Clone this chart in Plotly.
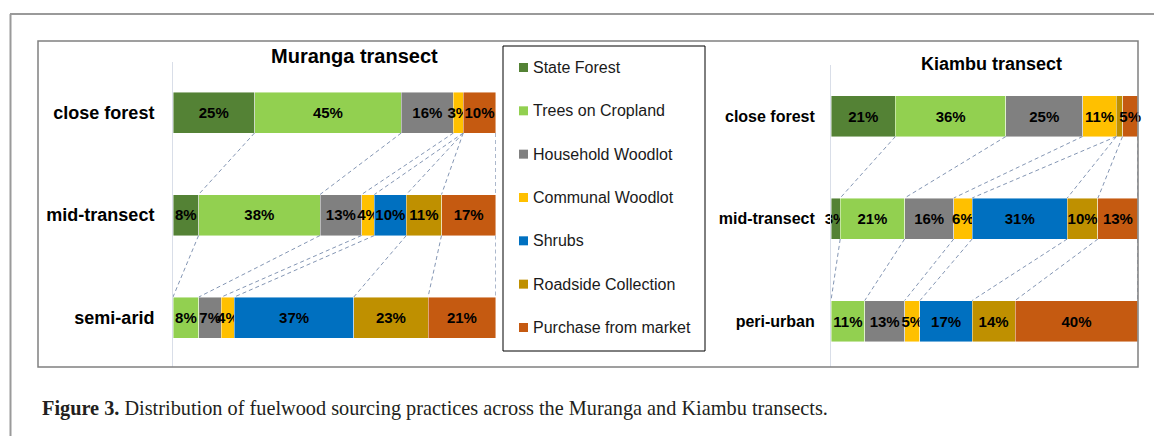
import plotly.graph_objects as go

W, H = 1154, 436

# ---------------- data ----------------
series_names = ["State Forest", "Trees on Cropland", "Household Woodlot",
                "Communal Woodlot", "Shrubs", "Roadside Collection",
                "Purchase from market"]
series_colors = ["#548235", "#92D050", "#808080", "#FFC000",
                 "#0070C0", "#BF9000", "#C55A11"]

muranga_sites = ["close forest", "mid-transect", "semi-arid"]
muranga_state = [25, 8, 0]
muranga_trees = [45, 38, 8]
muranga_household = [16, 13, 7]
muranga_communal = [3, 4, 4]
muranga_shrubs = [0, 10, 37]
muranga_roadside = [0, 11, 23]
muranga_purchase = [10, 17, 21]

kiambu_sites = ["close forest", "mid-transect", "peri-urban"]
kiambu_state = [21, 3, 0]
kiambu_trees = [36, 21, 11]
kiambu_household = [25, 16, 13]
kiambu_communal = [11, 6, 5]
kiambu_shrubs = [0, 31, 17]
kiambu_roadside = [2, 10, 14]
kiambu_purchase = [5, 13, 40]

muranga_values = [muranga_state, muranga_trees, muranga_household,
                  muranga_communal, muranga_shrubs, muranga_roadside,
                  muranga_purchase]
kiambu_values = [kiambu_state, kiambu_trees, kiambu_household,
                 kiambu_communal, kiambu_shrubs, kiambu_roadside,
                 kiambu_purchase]

FONT = "Liberation Sans, Arial, sans-serif"


def px(x):
    return x / W


def py(y):
    return 1 - y / H


fig = go.Figure()


def add_panel(values, sites, xa, ya, label_size):
    pos = list(range(len(sites)))
    # series (connector) lines, normalised like the 100% stacked bars
    totals = [sum(values[k][i] for k in range(len(values))) for i in pos]
    cums = []
    for i in pos:
        c, acc = [], 0
        for k in range(len(values)):
            acc += values[k][i]
            c.append(acc / totals[i] * 100)
        cums.append(c)
    lx, ly = [], []
    for i in pos[:-1]:
        for k in range(len(values)):
            lx += [cums[i][k], cums[i + 1][k], None]
            ly += [i + 0.2, i + 1 - 0.2, None]
    fig.add_trace(go.Scatter(
        x=lx, y=ly, mode="lines", xaxis=xa, yaxis=ya,
        line=dict(color="#8496B4", width=1, dash="4px,3px"),
        showlegend=False, hoverinfo="skip", cliponaxis=False,
    ))
    for k, (name, col) in enumerate(zip(series_names, series_colors)):
        vals = values[k]
        fig.add_trace(go.Bar(
            name=name, orientation="h", y=pos, x=vals, width=0.4,
            marker=dict(color=col, line=dict(color="rgba(255,255,255,0.6)", width=0.75)),
            text=[f"{v}%" if v >= 3 else "" for v in vals],
            textposition="inside", insidetextanchor="middle",
            textangle=0, constraintext="none", cliponaxis=False,
            textfont=dict(family=FONT, size=label_size, color="black", weight="bold"),
            xaxis=xa, yaxis=ya, showlegend=False, hoverinfo="skip",
        ))


add_panel(muranga_values, muranga_sites, "x", "y", 16)
add_panel(kiambu_values, kiambu_sites, "x2", "y2", 15)


def yaxis_cfg(domain_px, centers_top, spacing, sites, size, standoff, anchor):
    top, bottom = domain_px
    r0 = -(centers_top - top) / spacing
    r1 = r0 + (bottom - top) / spacing
    return dict(
        domain=[py(bottom), py(top)], range=[r1, r0], anchor=anchor,
        tickvals=list(range(len(sites))), ticktext=sites,
        tickfont=dict(family=FONT, size=size, color="black", weight="bold"),
        showline=True, linecolor="#D9DEE8", linewidth=1,
        showgrid=False, zeroline=False,
        ticks="outside", ticklen=standoff, tickcolor="rgba(0,0,0,0)",
        fixedrange=True,
    )


fig.update_layout(
    width=W, height=H, margin=dict(l=0, r=0, t=0, b=0),
    paper_bgcolor="white", plot_bgcolor="white",
    barmode="stack", barnorm="percent", showlegend=False,
    uniformtext=dict(mode="show", minsize=15),
    xaxis=dict(domain=[px(173), px(496)], range=[0, 100.05], visible=False,
               fixedrange=True, anchor="y"),
    xaxis2=dict(domain=[px(831), px(1138)], range=[0, 100.05], visible=False,
                fixedrange=True, anchor="y2"),
    yaxis=yaxis_cfg((62, 367), 112.5, 102.5, muranga_sites, 18, 14, "x"),
    yaxis2=yaxis_cfg((65, 367), 116, 102.5, kiambu_sites, 16, 12, "x2"),
)

shapes = []
# outer frame lines
shapes.append(dict(type="line", xref="paper", yref="paper",
                   x0=px(10), x1=px(1154), y0=py(14), y1=py(14),
                   line=dict(color="#9A9A9A", width=2)))
shapes.append(dict(type="line", xref="paper", yref="paper",
                   x0=px(10.5), x1=px(10.5), y0=py(14), y1=py(436),
                   line=dict(color="#9A9A9A", width=2)))
# inner chart box
shapes.append(dict(type="rect", xref="paper", yref="paper",
                   x0=px(38), x1=px(1138), y0=py(367), y1=py(41),
                   line=dict(color="#808080", width=1.5)))
# legend box
shapes.append(dict(type="rect", xref="paper", yref="paper",
                   x0=px(503), x1=px(705), y0=py(351), y1=py(46),
                   line=dict(color="black", width=1), fillcolor="white",
                   layer="below"))

annotations = []
for i, (name, col) in enumerate(zip(series_names, series_colors)):
    yc = 67.5 + i * 43.33
    shapes.append(dict(type="rect", xref="paper", yref="paper",
                       x0=px(519), x1=px(528), y0=py(yc + 4.5), y1=py(yc - 4.5),
                       line=dict(width=0), fillcolor=col))
    annotations.append(dict(text=name, x=px(531), y=py(yc), xref="paper", yref="paper",
                            xanchor="left", yanchor="middle", showarrow=False,
                            font=dict(family=FONT, size=16, color="#1A1A1A")))

annotations.append(dict(text="<b>Muranga transect</b>", x=px(354), y=py(56),
                        xref="paper", yref="paper", xanchor="center", yanchor="middle",
                        showarrow=False, font=dict(family=FONT, size=20, color="black")))
annotations.append(dict(text="<b>Kiambu transect</b>", x=px(991), y=py(64),
                        xref="paper", yref="paper", xanchor="center", yanchor="middle",
                        showarrow=False, font=dict(family=FONT, size=18, color="black")))
annotations.append(dict(
    text="<b>Figure 3.</b> Distribution of fuelwood sourcing practices across the Muranga and Kiambu transects.",
    x=px(40), y=py(408), xref="paper", yref="paper", xanchor="left", yanchor="middle",
    showarrow=False, font=dict(family="Liberation Serif, Times New Roman, serif", size=20.3, color="#231F20")))

fig.update_layout(shapes=shapes, annotations=annotations)

fig.write_html("out.html", config={"displayModeBar": False, "staticPlot": True},
               post_script="document.body.style.margin='0';document.body.style.overflow='hidden';")
